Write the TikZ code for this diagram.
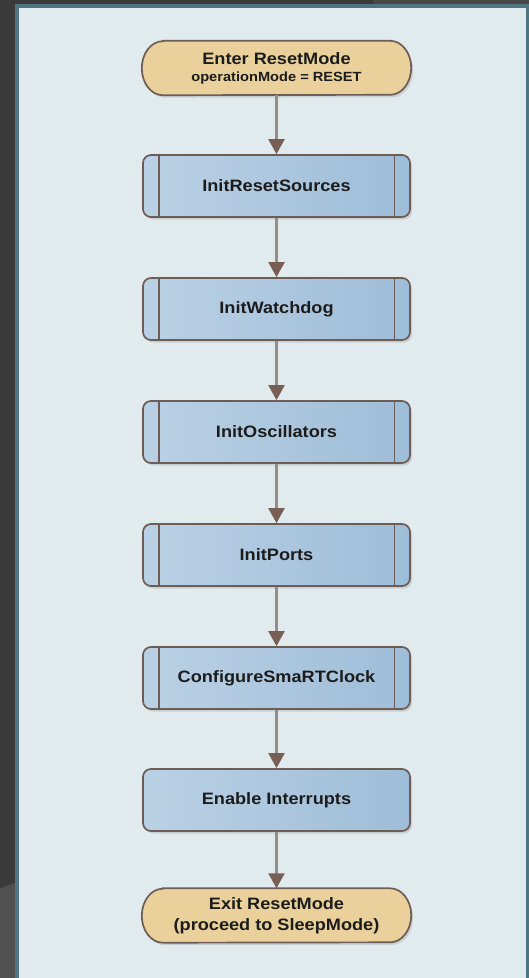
\documentclass[tikz,border=0pt]{standalone}
\usepackage{fontspec}
\setmainfont{Liberation Sans}[FakeStretch=1.1]
\usetikzlibrary{arrows.meta,shadows,calc}

\definecolor{outerbg}{HTML}{3A3A3A}
\definecolor{outerlite}{HTML}{505050}
\definecolor{panelbd}{HTML}{4E7580}
\definecolor{panelbg}{HTML}{E1EAED}
\definecolor{boxline}{HTML}{6E5D57}
\definecolor{boxlight}{HTML}{BAD1E5}
\definecolor{boxdark}{HTML}{9EBDD8}
\definecolor{termfill}{HTML}{EAD09B}
\definecolor{flowline}{HTML}{978C87}
\definecolor{tipcol}{HTML}{775F56}
\definecolor{txt}{HTML}{1C1C1C}

\pgfdeclarelayer{bg}
\pgfsetlayers{bg,main}

\tikzset{
  procbox/.style={draw=boxline, line width=1.7pt, rounded corners=8pt,
    left color=boxlight, right color=boxdark,
    minimum width=267pt, minimum height=62pt, inner sep=0pt,
    font=\fontsize{16.5}{20}\selectfont\bfseries, text=txt,
    drop shadow={shadow xshift=2pt, shadow yshift=-2.5pt, opacity=0.25}},
  termbox/.style={minimum width=269pt, minimum height=54pt, inner sep=0pt,
    align=center, text=txt},
  termshape/.style={draw=boxline, line width=1.7pt, fill=termfill,
    drop shadow={shadow xshift=2pt, shadow yshift=-2.5pt, opacity=0.25}},
  subbar/.style={draw=boxline, line width=1.7pt},
  flow/.style={draw=flowline, line width=2.1pt,
    -{Triangle[width=16pt,length=15pt,color=tipcol]}}
}

% stadium outline with elliptical ends around a terminal node
\newcommand{\termoutline}[1]{%
  \begin{pgfonlayer}{bg}
  \path[termshape] ($(#1.north west)+(21pt,0)$) -- ($(#1.north east)+(-21pt,0)$)
    arc[start angle=90,end angle=-90,x radius=21pt,y radius=27pt]
    -- ($(#1.south west)+(21pt,0)$)
    arc[start angle=270,end angle=90,x radius=21pt,y radius=27pt] -- cycle;
  \end{pgfonlayer}}
% vertical side bars of a predefined-process box
\newcommand{\subbars}[1]{%
  \draw[subbar] ([xshift=16.5pt]#1.north west) -- ([xshift=16.5pt]#1.south west);
  \draw[subbar] ([xshift=-16.5pt]#1.north east) -- ([xshift=-16.5pt]#1.south east);}

\begin{document}
\begin{tikzpicture}[x=1pt,y=1pt]
\useasboundingbox (0,0) rectangle (529,-978);

\begin{pgfonlayer}{bg}
  % surrounding window area
  \fill[outerbg] (0,0) rectangle (529,-978);
  \fill[black!72] (373,0) rectangle (529,-4);
  \fill[outerlite] (0,-888) -- (15,-883) -- (15,-978) -- (0,-978) -- cycle;
  % drawing panel
  \filldraw[fill=panelbg, draw=panelbd, line width=3.5pt] (16.75,-5.75) rectangle (527.5,-990);
\end{pgfonlayer}

% terminals
\node[termbox, font=\fontsize{16.5}{17}\selectfont\bfseries] (start) at (276.5,-68)
  {Enter ResetMode\\{\fontsize{13.3}{17}\selectfont operationMode = RESET}};
\termoutline{start}

\node[termbox, font=\fontsize{16.5}{21}\selectfont\bfseries] (exit) at (276.5,-915.5)
  {Exit ResetMode\\(proceed to SleepMode)};
\termoutline{exit}

% process steps
\node[procbox] (rs)  at (276.5,-186) {InitResetSources};
\subbars{rs}
\node[procbox] (wd)  at (276.5,-309) {InitWatchdog};
\subbars{wd}
\node[procbox] (osc) at (276.5,-432) {InitOscillators};
\subbars{osc}
\node[procbox] (pt)  at (276.5,-555) {InitPorts};
\subbars{pt}
\node[procbox] (rtc) at (276.5,-678) {ConfigureSmaRTClock};
\subbars{rtc}
\node[procbox] (irq) at (276.5,-800) {Enable Interrupts};

% flow connectors
\draw[flow] (start) -- (rs);
\draw[flow] (rs) -- (wd);
\draw[flow] (wd) -- (osc);
\draw[flow] (osc) -- (pt);
\draw[flow] (pt) -- (rtc);
\draw[flow] (rtc) -- (irq);
\draw[flow] (irq) -- (exit);
\end{tikzpicture}
\end{document}
